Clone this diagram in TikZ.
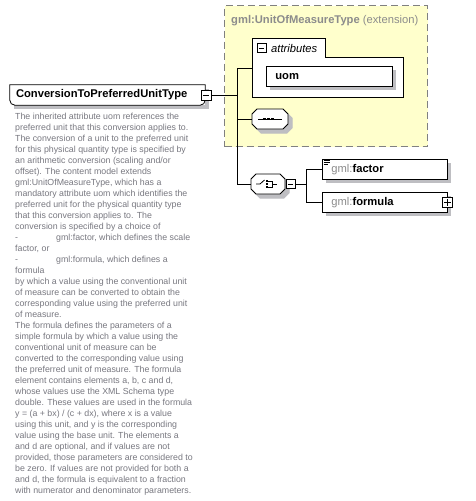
\documentclass[tikz,border=0pt]{standalone}
\usepackage{fontspec}
\setmainfont{Liberation Sans}
\definecolor{anno}{RGB}{120,120,128}
\definecolor{ybg}{RGB}{255,255,204}
\definecolor{ybd}{RGB}{128,128,128}
\definecolor{pfx}{RGB}{140,140,140}
\definecolor{shadowgray}{RGB}{190,190,194}
\tikzset{
  lbl/.style={font=\fontsize{11.2}{13}\selectfont},
  elbox/.style={draw=black,fill=white,line width=0.8pt,rectangle,
    minimum height=20pt,inner ysep=0pt,inner xsep=9pt,align=left,lbl},
  octo/.style={draw=none,rectangle,minimum width=36pt,minimum height=20pt,inner sep=0pt},
  octline/.style={draw=black,fill=white,line width=0.8pt,line join=miter},
  pmbox/.style={draw=black,fill=white,line width=0.7pt,rectangle,
    minimum width=10pt,minimum height=10pt,inner sep=0pt},
  conn/.style={draw=black,line width=0.8pt},
  shadowstrip/.style={draw=shadowgray,line width=4pt,line join=miter,line cap=butt},
  shadowoct/.style={fill=shadowgray,draw=shadowgray,line width=1pt},
}
\begin{document}
\begin{tikzpicture}[x=1pt,y=-1pt]
\useasboundingbox (0,0) rectangle (475,501);
\fill[white] (0,0) rectangle (475,501);
% extension box
\node[draw=ybd,dash pattern=on 7pt off 4pt,line width=1pt,fill=ybg,rectangle,
      minimum width=203pt,minimum height=141pt,anchor=north west,inner sep=0pt] (ext) at (224,5) {};
\node[anchor=base west,inner sep=0pt,lbl,text=pfx] (exttitle) at (231,23)
  {\textbf{gml:UnitOfMeasureType} (extension)};

% shadows
\draw[shadowstrip] (207,89) -- (207,107) -- (14,107);
\draw[shadowstrip] (449,163) -- (449,181) -- (326,181);
\draw[shadowstrip] (449,196) -- (449,214) -- (326,214);
\draw[shadowoct] (261,113) -- (287,113) -- (292,118) -- (292,128) -- (287,133) -- (261,133) -- (256,128) -- (256,118) -- cycle;
\draw[shadowoct] (260,178) -- (284,178) -- (289,183) -- (289,193) -- (284,198) -- (260,198) -- (255,193) -- (255,183) -- cycle;

% attributes group
\draw[fill=white,line width=0.8pt] (252,97) -- (252,38) -- (325,38) -- (325,57) -- (403,57) -- (403,97) -- cycle;
\draw[shadowstrip] (394,70) -- (394,88) -- (270,88);
\node[pmbox,minimum width=9pt,minimum height=9pt] (aminus) at (261.5,48) {};
\draw[line width=0.7pt] ([xshift=2pt]aminus.west) -- ([xshift=-2pt]aminus.east);
\node[anchor=base west,inner sep=0pt,lbl] (attrlbl) at (271,52) {\itshape attributes};
\coordinate (attrs) at (252,68);
\node[elbox,anchor=north west,minimum width=126pt,text width=108pt] (uom) at (266,66) {\textbf{uom}};

% main element
\node[rectangle,minimum width=195pt,minimum height=20pt,inner sep=0pt] (main) at (107.5,95) {};
\draw[fill=white,line width=0.8pt] (main.north east) -- (main.north west) [rounded corners=5pt] -- (main.south west) -- (main.south east) [sharp corners] -- cycle;
\node[anchor=west,inner sep=0pt,lbl] (maintxt) at (main.west) {\hspace*{6pt}\textbf{ConversionToPreferredUnitType}};
\node[pmbox] (mminus) at (206,95) {};
\draw[line width=0.7pt] ([xshift=2pt]mminus.west) -- ([xshift=-2pt]mminus.east);

% sequence
\node[octo] (seq) at (270,119) {};
\draw[octline] (257,109) -- (283,109) -- (288,114) -- (288,124) -- (283,129) -- (257,129) -- (252,124) -- (252,114) -- cycle;
\draw[line width=0.8pt] (258,119) -- (282,119);
\fill (263,117.7) rectangle +(2.6,2.6);
\fill (267,117.7) rectangle +(2.6,2.6);
\fill (271,117.7) rectangle +(2.6,2.6);

% choice
\node[octo,minimum width=34pt] (choice) at (268,184) {};
\draw[octline] (256,174) -- (280,174) -- (285,179) -- (285,189) -- (280,194) -- (256,194) -- (251,189) -- (251,179) -- cycle;
\draw[line width=0.8pt] (256,184) -- (260,184) -- (264.5,180);
\fill (265.5,179.8) rectangle +(2.6,2.4);
\fill (265.5,182.8) rectangle +(2.6,2.4);
\fill (265.5,185.8) rectangle +(2.6,2.4);
\draw[line width=0.8pt] (268,181) -- (272,181) -- (272,187) -- (268,187);
\draw[line width=0.8pt] (272,184) -- (277,184);
\node[pmbox,minimum width=9pt,minimum height=9pt] (cminus) at (290.5,184) {};
\draw[line width=0.7pt] ([xshift=2pt]cminus.west) -- ([xshift=-2pt]cminus.east);

% children
\node[elbox,anchor=north west,minimum width=125pt,text width=107pt] (factor) at (322,159)
  {{\color{pfx}gml:}\textbf{factor}};
\draw[line width=0.6pt] (323.5,160.5) -- (330,160.5) (323.5,162.5) -- (330,162.5) (323.5,164.5) -- (328,164.5);
\node[elbox,anchor=north west,minimum width=125pt,text width=107pt] (formula) at (322,192)
  {{\color{pfx}gml:}\textbf{formula}};
\node[pmbox] (fplus) at (formula.east) {};
\draw[line width=0.7pt] ([xshift=2pt]fplus.west) -- ([xshift=-2pt]fplus.east)
  ([yshift=-2pt]fplus.north) -- ([yshift=2pt]fplus.south);

% connectors
\coordinate (trunk) at (237,95);
\coordinate (cbus) at (306,184);
\draw[conn] (mminus.east) -- (trunk);
\draw[conn] (attrs) -| (trunk);
\draw[conn] (seq.west) -| (trunk);
\draw[conn] (choice.west) -| (trunk);
\draw[conn] (cminus.east) -- (cbus);
\draw[conn] (factor.west) -| (cbus);
\draw[conn] (formula.west) -| (cbus);

% annotation
\node[anchor=north west,inner sep=0pt,align=left,text=anno,
      font=\fontsize{8.8}{11}\selectfont] (anno) at (15,112.6) {%
The inherited attribute uom references the\\
preferred unit that this conversion applies to.\\
The conversion of a unit to the preferred unit\\
for this physical quantity type is specified by\\
an arithmetic conversion (scaling and/or\\
offset). The content model extends\\
gml:UnitOfMeasureType, which has a\\
mandatory attribute uom which identifies the\\
preferred unit for the physical quantity type\\
that this conversion applies to. The\\
conversion is specified by a choice of\\
\makebox[41pt][l]{-}gml:factor, which defines the scale\\
factor, or\\
\makebox[41pt][l]{-}gml:formula, which defines a\\
formula\\
by which a value using the conventional unit\\
of measure can be converted to obtain the\\
corresponding value using the preferred unit\\
of measure.\\
The formula defines the parameters of a\\
simple formula by which a value using the\\
conventional unit of measure can be\\
converted to the corresponding value using\\
the preferred unit of measure. The formula\\
element contains elements a, b, c and d,\\
whose values use the XML Schema type\\
double. These values are used in the formula\\
y = (a + bx) / (c + dx), where x is a value\\
using this unit, and y is the corresponding\\
value using the base unit. The elements a\\
and d are optional, and if values are not\\
provided, those parameters are considered to\\
be zero. If values are not provided for both a\\
and d, the formula is equivalent to a fraction\\
with numerator and denominator parameters.};
\end{tikzpicture}
\end{document}
